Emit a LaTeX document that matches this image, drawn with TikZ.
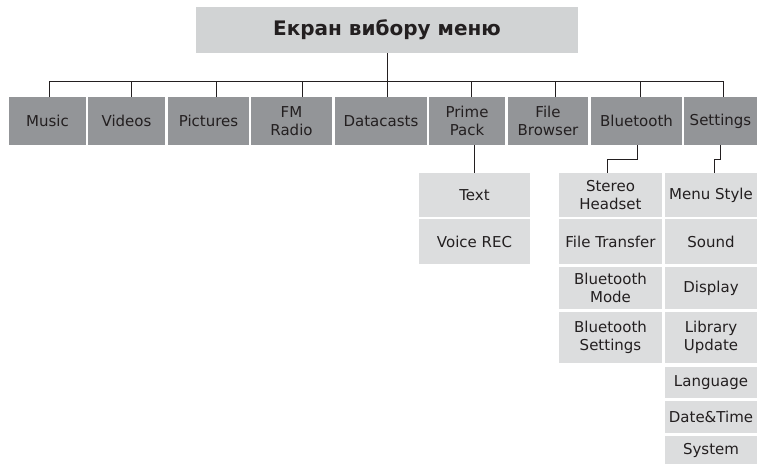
\documentclass[tikz,border=0pt]{standalone}
\usepackage{fontspec}
\setmainfont{DejaVu Sans}
\definecolor{mgdark}{HTML}{939598}
\definecolor{mglight}{HTML}{DCDDDE}
\definecolor{mgtitle}{HTML}{D1D3D4}
\definecolor{mgtext}{HTML}{231F20}
\usetikzlibrary{positioning,calc}

\begin{document}
\begin{tikzpicture}[x=1pt,y=-1pt,
    every node/.style={font=\fontsize{15}{17.5}\selectfont,text=mgtext,
                       align=center,inner sep=0pt},
    menubox/.style={fill=mgdark,minimum height=48pt},
    subbox/.style={fill=mglight},
    link/.style={draw=mgtext,line width=0.9pt}]
  \useasboundingbox (0,0) rectangle (760,464);

  %% Title
  \node[fill=mgtitle,minimum width=382pt,minimum height=46pt,
        font=\fontsize{20}{24}\selectfont\bfseries] (title) at (387,30)
        {Екран вибору меню};

  %% Main menu row
  \node[menubox,minimum width=77pt] (music)       at (47.5,121)  {Music};
  \node[menubox,minimum width=77pt] (videos)      at (126.5,121) {Videos};
  \node[menubox,minimum width=81pt] (pictures)    at (208.5,121) {Pictures};
  \node[menubox,minimum width=81pt] (fmradio)     at (291.5,121) {FM\\Radio};
  \node[menubox,minimum width=92pt] (datacasts)   at (381,121)   {Datacasts};
  \node[menubox,minimum width=76pt] (primepack)   at (467,121)   {Prime\\Pack};
  \node[menubox,minimum width=80pt] (filebrowser) at (548,121)   {File\\Browser};
  \node[menubox,minimum width=91pt] (bluetooth)   at (636.5,121) {Bluetooth};
  \node[menubox,minimum width=73pt] (settings)    at (720.5,121) {Settings};

  %% Prime Pack items
  \node[subbox,minimum width=111pt,minimum height=44pt] (ptext)    at (474.5,195)   {Text};
  \node[subbox,minimum width=111pt,minimum height=45pt] (voicerec) at (474.5,241.5) {Voice REC};

  %% Bluetooth items
  \node[subbox,minimum width=103pt,minimum height=44pt] (stereo)   at (610.5,195)   {Stereo\\Headset};
  \node[subbox,minimum width=103pt,minimum height=45pt] (transfer) at (610.5,241.5) {File Transfer};
  \node[subbox,minimum width=103pt,minimum height=42pt] (btmode)   at (610.5,288)   {Bluetooth\\Mode};
  \node[subbox,minimum width=103pt,minimum height=51pt] (btset)    at (610.5,337.5) {Bluetooth\\Settings};

  %% Settings items
  \node[subbox,minimum width=92pt,minimum height=44pt] (menustyle) at (711,195)   {Menu Style};
  \node[subbox,minimum width=92pt,minimum height=45pt] (sound)     at (711,241.5) {Sound};
  \node[subbox,minimum width=92pt,minimum height=42pt] (display)   at (711,288)   {Display};
  \node[subbox,minimum width=92pt,minimum height=51pt] (library)   at (711,337.5) {Library\\Update};
  \node[subbox,minimum width=92pt,minimum height=31pt] (language)  at (711,382.5) {Language};
  \node[subbox,minimum width=92pt,minimum height=32pt] (datetime)  at (711,417)   {Date\&Time};
  \node[subbox,minimum width=92pt,minimum height=28pt] (system)    at (711,450)   {System};

  %% Connectors
  \coordinate (bar) at (387,81);
  \draw[link] (title.south) -- (bar);
  \draw[link] ($(music.north|-bar)+(1.5,0)$) -- ($(settings.north|-bar)+(2.5,0)$);
  \foreach \n/\d in {music/1.5,videos/4.5,pictures/7.5,fmradio/10.5,datacasts/6,
                     primepack/4,filebrowser/7,bluetooth/3.5,settings/2.5}
    \draw[link] ($(\n.north)+(\d,0)$) -- ($(\n.north|-bar)+(\d,0)$);
  \draw[link] (ptext.north) -- (ptext.north |- primepack.south);
  \draw[link] ($(bluetooth.south)+(0.5,0)$) -- ++(0,14) -| ($(stereo.north)+(-3.5,0)$);
  \draw[link] (settings.south) -- ++(0,14) -| ($(menustyle.north)+(3,0)$);
\end{tikzpicture}
\end{document}
